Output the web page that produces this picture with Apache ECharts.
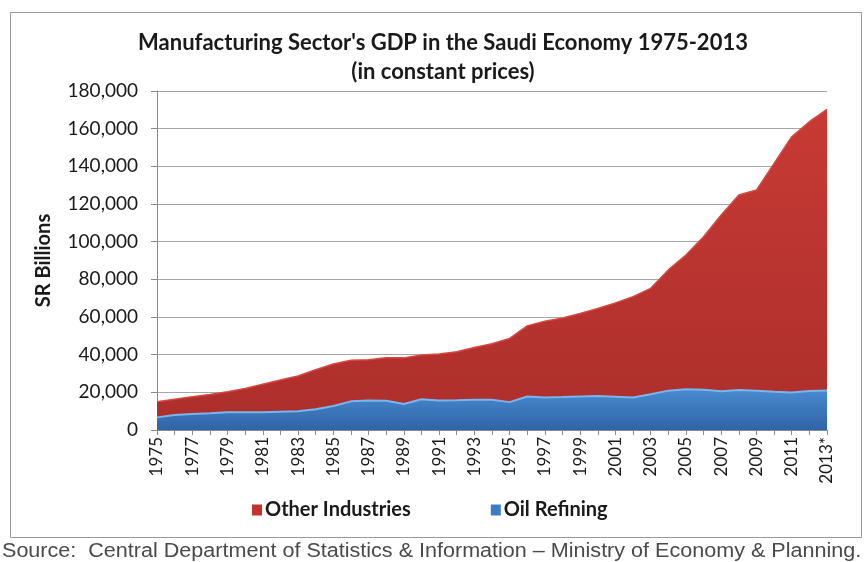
<!DOCTYPE html>
<html>
<head>
<meta charset="utf-8">
<script src="https://cdn.jsdelivr.net/npm/echarts@6/dist/echarts.min.js"></script>
<style>
  html, body { margin: 0; padding: 0; background: #ffffff; }
  #chart { width: 864px; height: 562px; }
</style>
</head>
<body>
<div id="chart"></div>
<script>
// Years on the category axis (2013 is a preliminary estimate)
const years = ['1975','1976','1977','1978','1979','1980','1981','1982','1983','1984',
  '1985','1986','1987','1988','1989','1990','1991','1992','1993','1994',
  '1995','1996','1997','1998','1999','2000','2001','2002','2003','2004',
  '2005','2006','2007','2008','2009','2010','2011','2012','2013*'];

// Oil refining value added, SR billions (bottom layer)
const oilRefining = [6700, 8000, 8500, 8900, 9400, 9400, 9400, 9700, 10000, 11000,
  12700, 15200, 15600, 15500, 13800, 16300, 15600, 15800, 16100, 16100,
  14800, 17800, 17300, 17500, 17800, 18100, 17700, 17300, 19000, 20900,
  21600, 21400, 20600, 21200, 20800, 20300, 19900, 20700, 21000];

// Other manufacturing industries, SR billions (stacked on top)
const otherIndustries = [8300, 8300, 9100, 10000, 10900, 12600, 14900, 16800, 18700, 21000,
  22300, 21800, 21700, 22900, 24500, 23500, 24700, 25700, 27700, 29700,
  33800, 37500, 40500, 42000, 44100, 46400, 49800, 53500, 56200, 64100,
  71300, 81200, 93600, 103600, 106600, 121300, 135800, 143000, 149300];

const yTicks = { min: 0, max: 180000, step: 20000 };

const chart = echarts.init(document.getElementById('chart'), null, { renderer: 'canvas' });

const bodyFont = 'Lato, "Open Sans", sans-serif';

const redFill = new echarts.graphic.LinearGradient(0, 0, 0, 1, [
  { offset: 0, color: '#c83a34' },
  { offset: 1, color: '#ad2f2c' }
]);
const blueFill = new echarts.graphic.LinearGradient(0, 0, 0, 1, [
  { offset: 0, color: '#4a8ad0' },
  { offset: 1, color: '#2f64a6' }
]);

const titleFont = 'bold 22px Lato, "Open Sans", sans-serif';

chart.setOption({
  animation: false,
  backgroundColor: '#ffffff',
  graphic: [
    {
      type: 'rect',
      shape: { x: 10.5, y: 12.5, width: 851, height: 525 },
      style: { fill: 'none', stroke: '#9a9a9a', lineWidth: 1 },
      silent: true
    },
    {
      type: 'text',
      x: 443,
      y: 43,
      style: {
        text: "Manufacturing Sector's GDP in the Saudi Economy 1975-2013",
        font: titleFont,
        fill: '#1a1a1a',
        align: 'center',
        verticalAlign: 'middle'
      }
    },
    {
      type: 'text',
      x: 443,
      y: 72,
      style: {
        text: '(in constant prices)',
        font: titleFont,
        fill: '#1a1a1a',
        align: 'center',
        verticalAlign: 'middle'
      }
    },
    {
      type: 'text',
      x: 2,
      y: 541,
      scaleX: 1.078,
      style: {
        text: 'Source:  Central Department of Statistics & Information \u2013 Ministry of Economy & Planning.',
        font: '20px "Liberation Sans", Arial, sans-serif',
        fill: '#4a4a4a'
      }
    }
  ],
  legend: {
    data: ['Other Industries', 'Oil Refining'],
    bottom: 37,
    left: 247,
    itemWidth: 10,
    itemHeight: 11,
    itemGap: 80,
    icon: 'rect',
    textStyle: {
      fontFamily: bodyFont,
      fontSize: 20,
      fontWeight: 'bold',
      color: '#1a1a1a',
      padding: [0, 0, 0, -2]
    }
  },
  grid: {
    left: 157,
    right: 37,
    top: 91,
    bottom: 132
  },
  xAxis: {
    type: 'category',
    data: years,
    boundaryGap: false,
    axisLine: { show: true, lineStyle: { color: '#8a8a8a', width: 1 } },
    axisTick: { show: true, interval: 0, length: 5, lineStyle: { color: '#8a8a8a' } },
    axisLabel: {
      interval: 1,
      rotate: 90,
      margin: 7,
      fontFamily: bodyFont,
      fontSize: 17,
      color: '#1a1a1a'
    },
    splitLine: { show: false }
  },
  yAxis: {
    type: 'value',
    min: yTicks.min,
    max: yTicks.max,
    interval: yTicks.step,
    name: 'SR Billions',
    nameLocation: 'middle',
    nameGap: 103,
    nameTextStyle: {
      fontFamily: bodyFont,
      fontSize: 20,
      fontWeight: 'bold',
      color: '#1a1a1a'
    },
    axisLine: { show: true, lineStyle: { color: '#8a8a8a', width: 1 } },
    axisTick: { show: true, length: 6, lineStyle: { color: '#8a8a8a' } },
    axisLabel: {
      margin: 19,
      fontFamily: bodyFont,
      fontSize: 19,
      color: '#1a1a1a',
      formatter: v => v.toLocaleString('en-US')
    },
    splitLine: { show: true, lineStyle: { color: '#a6a6a6', width: 1 } }
  },
  series: [
    {
      name: 'Oil Refining',
      type: 'line',
      stack: 'gdp',
      data: oilRefining,
      showSymbol: false,
      symbol: 'none',
      lineStyle: { color: '#78b6ee', width: 2 },
      itemStyle: { color: '#3d7cc6' },
      areaStyle: { color: blueFill, opacity: 1 },
      z: 3
    },
    {
      name: 'Other Industries',
      type: 'line',
      stack: 'gdp',
      data: otherIndustries,
      showSymbol: false,
      symbol: 'none',
      lineStyle: { color: '#da4640', width: 1.5 },
      itemStyle: { color: '#c0332f' },
      areaStyle: { color: redFill, opacity: 1 },
      z: 2
    }
  ]
});
</script>
</body>
</html>
